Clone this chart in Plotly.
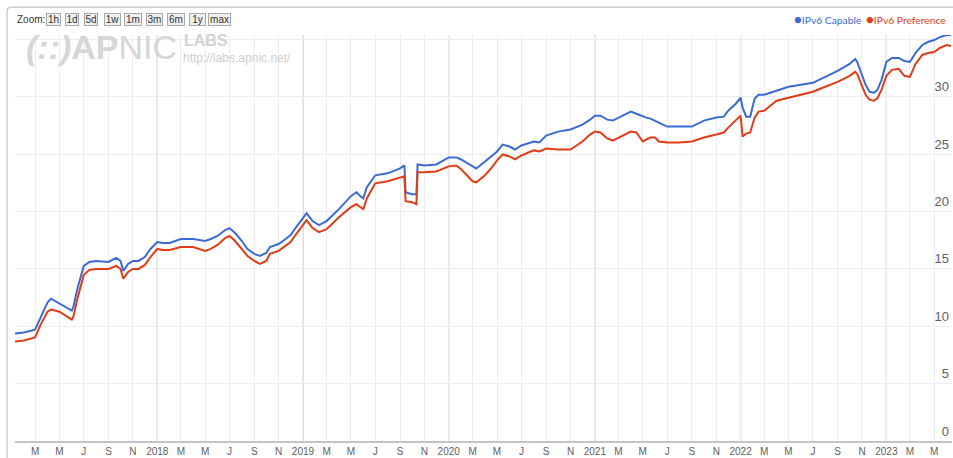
import plotly.graph_objects as go

# ---------------- data ----------------
dates = [
    "2017-01-09", "2017-02-01", "2017-03-01", "2017-03-15", "2017-04-01", "2017-04-10",
    "2017-05-01", "2017-06-01", "2017-06-05", "2017-06-15", "2017-07-01", "2017-07-15",
    "2017-08-01", "2017-09-01", "2017-09-20", "2017-10-01", "2017-10-08", "2017-10-20",
    "2017-11-01", "2017-11-15", "2017-12-01", "2017-12-15",
    "2018-01-01", "2018-01-15", "2018-02-01", "2018-03-01", "2018-04-01", "2018-05-01",
    "2018-05-15", "2018-06-01", "2018-06-20", "2018-07-01", "2018-07-15", "2018-08-01",
    "2018-08-15", "2018-09-01", "2018-09-15", "2018-10-01", "2018-10-10", "2018-11-01",
    "2018-11-15", "2018-12-01", "2018-12-15",
    "2019-01-01", "2019-01-10", "2019-01-25", "2019-02-10", "2019-03-01", "2019-04-01",
    "2019-05-01", "2019-05-15", "2019-05-25", "2019-06-01", "2019-06-10", "2019-07-01",
    "2019-08-01", "2019-09-01", "2019-09-12", "2019-09-15", "2019-10-01", "2019-10-12",
    "2019-10-15", "2019-11-01", "2019-12-01",
    "2020-01-01", "2020-01-20", "2020-02-01", "2020-03-01", "2020-03-10", "2020-04-01",
    "2020-04-20", "2020-05-01", "2020-05-15", "2020-06-01", "2020-06-15", "2020-07-01",
    "2020-08-01", "2020-08-15", "2020-09-01", "2020-10-01", "2020-11-01", "2020-12-01",
    "2020-12-20",
    "2021-01-01", "2021-01-15", "2021-02-01", "2021-02-15", "2021-03-01", "2021-04-01",
    "2021-04-15", "2021-05-01", "2021-05-10", "2021-05-20", "2021-06-01", "2021-06-10",
    "2021-07-01", "2021-08-01", "2021-09-01", "2021-10-01", "2021-11-01", "2021-11-20",
    "2021-12-01", "2021-12-20",
    "2022-01-01", "2022-01-06", "2022-01-15", "2022-01-25", "2022-02-05", "2022-02-15",
    "2022-03-01", "2022-04-01", "2022-05-01", "2022-06-01", "2022-07-01", "2022-08-01",
    "2022-09-01", "2022-10-01", "2022-10-15", "2022-10-20", "2022-11-01", "2022-11-10",
    "2022-11-20", "2022-12-01", "2022-12-10", "2022-12-20",
    "2023-01-01", "2023-01-15", "2023-02-01", "2023-02-15", "2023-03-01", "2023-03-15",
    "2023-04-01", "2023-04-15", "2023-05-01", "2023-05-15", "2023-06-01", "2023-06-12",
]

ipv6_capable = [
    9.37, 9.45, 9.71, 10.84, 12.06, 12.40,
    11.97, 11.36, 11.70, 13.27, 15.26, 15.61,
    15.70, 15.61, 15.96, 15.70, 14.83, 15.44,
    15.70, 15.70, 16.04, 16.74,
    17.35, 17.26, 17.26, 17.61, 17.61, 17.43,
    17.61, 17.87, 18.39, 18.56, 18.13, 17.43,
    16.74, 16.31, 16.13, 16.39, 16.91, 17.17,
    17.52, 17.95, 18.65,
    19.51, 19.86, 19.17, 18.82, 19.17, 20.21,
    21.34, 21.68, 21.34, 21.16, 22.12, 23.16,
    23.33, 23.76, 24.02, 21.68, 21.51, 21.51,
    24.11, 24.02, 24.11,
    24.72, 24.72, 24.54, 23.94, 23.76, 24.37,
    24.89, 25.24, 25.84, 25.67, 25.41, 25.76,
    26.11, 26.02, 26.63, 26.97, 27.15, 27.58,
    28.01,
    28.36, 28.36, 28.01, 27.93, 28.19, 28.71,
    28.53, 28.27, 28.19, 28.10, 27.93, 27.75,
    27.41, 27.41, 27.41, 27.93, 28.19, 28.27,
    28.79, 29.40,
    29.92, 29.05, 28.27, 28.27, 29.84, 30.18,
    30.18, 30.53, 30.88, 31.05, 31.22, 31.74,
    32.26, 32.87, 33.30, 33.04, 31.91, 31.05,
    30.44, 30.36, 30.62, 31.48,
    33.04, 33.39, 33.39, 33.13, 33.04, 33.82,
    34.52, 34.78, 34.95, 35.21, 35.39, 35.39,
]

ipv6_preference = [
    8.67, 8.76, 9.02, 10.15, 11.27, 11.45,
    11.27, 10.58, 10.84, 12.40, 14.48, 14.92,
    15.00, 15.00, 15.26, 15.00, 14.14, 14.74,
    15.00, 15.00, 15.35, 16.04,
    16.74, 16.65, 16.65, 16.91, 16.91, 16.57,
    16.74, 17.09, 17.69, 17.87, 17.43, 16.74,
    16.13, 15.70, 15.44, 15.70, 16.31, 16.57,
    16.91, 17.35, 18.04,
    18.82, 19.25, 18.56, 18.21, 18.47, 19.51,
    20.38, 20.64, 20.38, 20.21, 21.16, 22.46,
    22.64, 22.98, 23.07, 20.90, 20.82, 20.64,
    23.42, 23.42, 23.50,
    23.94, 24.02, 23.68, 22.64, 22.55, 23.16,
    23.94, 24.46, 24.98, 24.80, 24.54, 24.89,
    25.33, 25.24, 25.50, 25.41, 25.41, 26.11,
    26.71,
    26.97, 26.89, 26.37, 26.19, 26.45, 26.97,
    26.89, 26.11, 26.28, 26.45, 26.45, 26.11,
    26.02, 26.02, 26.11, 26.45, 26.71, 26.89,
    27.32, 27.93,
    28.36, 26.54, 26.80, 26.89, 28.19, 28.71,
    28.79, 29.66, 29.92, 30.18, 30.44, 30.88,
    31.31, 31.83, 32.18, 32.00, 30.96, 30.18,
    29.75, 29.66, 29.90, 30.62,
    31.83, 32.35, 32.44, 31.83, 31.74, 32.87,
    33.65, 33.82, 33.91, 34.26, 34.52, 34.43,
]

tick_dates = [
    "2017-03-01", "2017-05-01", "2017-07-01", "2017-09-01", "2017-11-01",
    "2018-01-01", "2018-03-01", "2018-05-01", "2018-07-01", "2018-09-01", "2018-11-01",
    "2019-01-01", "2019-03-01", "2019-05-01", "2019-07-01", "2019-09-01", "2019-11-01",
    "2020-01-01", "2020-03-01", "2020-05-01", "2020-07-01", "2020-09-01", "2020-11-01",
    "2021-01-01", "2021-03-01", "2021-05-01", "2021-07-01", "2021-09-01", "2021-11-01",
    "2022-01-01", "2022-03-01", "2022-05-01", "2022-07-01", "2022-09-01", "2022-11-01",
    "2023-01-01", "2023-03-01", "2023-05-01",
]
tick_labels = [
    "M", "M", "J", "S", "N",
    "2018", "M", "M", "J", "S", "N",
    "2019", "M", "M", "J", "S", "N",
    "2020", "M", "M", "J", "S", "N",
    "2021", "M", "M", "J", "S", "N",
    "2022", "M", "M", "J", "S", "N",
    "2023", "M", "M",
]
year_lines = ["2018-01-01", "2019-01-01", "2020-01-01", "2021-01-01", "2022-01-01", "2023-01-01"]

y_ticks = [0, 5, 10, 15, 20, 25, 30, 35]
y_tick_labels = ["0", "5", "10", "15", "20", "25", "30", ""]

zoom_buttons = ["1h", "1d", "5d", "1w", "1m", "3m", "6m", "1y", "max"]

series_names = ["IPv6 Capable", "IPv6 Preference"]
series_colors = ["#3a6bd4", "#e23c16"]

# ---------------- layout geometry ----------------
W, H = 953, 458
L, R, T, B = 15, 1, 35, 15
PW, PH = W - L - R, H - T - B


def fx(px):
    return (px - L) / PW


def fy(py):
    return (H - B - py) / PH


fig = go.Figure()
for name, vals, col in zip(series_names, [ipv6_capable, ipv6_preference], series_colors):
    fig.add_trace(go.Scatter(
        x=dates, y=vals, mode="lines", name=name,
        line=dict(color=col, width=2), showlegend=False,
    ))

shapes = []
for d in year_lines:
    shapes.append(dict(type="line", xref="x", yref="paper", x0=d, x1=d, y0=0, y1=1,
                       line=dict(color="#d2d2d6", width=1.5), layer="below"))

# container border (top + left) with rounded corner
bx0, by0 = fx(7), fy(7)
rx, ry = 4 / PW, 4 / PH
shapes.append(dict(
    type="path", xref="paper", yref="paper",
    path=f"M {bx0},{fy(470)} L {bx0},{by0 - ry} Q {bx0},{by0} {bx0 + rx},{by0} L {fx(970)},{by0}",
    line=dict(color="#b4b4b4", width=1),
))

annotations = []
# watermark
annotations.append(dict(xref="paper", yref="paper", x=fx(24), y=fy(47), xanchor="left", yanchor="middle",
                        text="<b><i>(::)</i>AP</b>NIC", showarrow=False,
                        font=dict(family="Liberation Sans", size=34, color="#d6d6d6")))
annotations.append(dict(xref="paper", yref="paper", x=fx(182), y=fy(41), xanchor="left", yanchor="middle",
                        text="<b>LABS</b>", showarrow=False,
                        font=dict(family="Liberation Sans", size=16, color="#d2d2d2")))
annotations.append(dict(xref="paper", yref="paper", x=fx(181), y=fy(58), xanchor="left", yanchor="middle",
                        text="http://labs.apnic.net/", showarrow=False,
                        font=dict(family="Liberation Sans", size=12, color="#cecece")))

# zoom selector
annotations.append(dict(xref="paper", yref="paper", x=fx(15), y=fy(19.5), xanchor="left", yanchor="middle",
                        text="Zoom:", showarrow=False,
                        font=dict(family="Liberation Sans", size=10, color="#333333")))
btn_centers = [53.5, 72, 91, 112.5, 133, 154.5, 176, 197.5, 219.5]
btn_widths = [15, 14, 14, 17, 18, 17, 18, 17, 23]
for lab, cx, bw in zip(zoom_buttons, btn_centers, btn_widths):
    annotations.append(dict(xref="paper", yref="paper", x=fx(cx), y=fy(19.5), xanchor="center",
                            yanchor="middle", text=lab, showarrow=False, width=bw - 2, height=11,
                            borderpad=0, borderwidth=1, bordercolor="#a8a8a8", bgcolor="#f0f0f0",
                            font=dict(family="Liberation Sans", size=10, color="#333333")))

# legend
legend_x = [792, 864]
for name, col, lx in zip(series_names, series_colors, legend_x):
    annotations.append(dict(xref="paper", yref="paper", x=fx(lx), y=fy(19), xanchor="left", yanchor="middle",
                            text=f"<span style='font-size:13px'>●</span>{name}", showarrow=False,
                            font=dict(family="Lato", size=10.3, color=col)))

fig.update_layout(
    width=W, height=H,
    margin=dict(l=L, r=R, t=T, b=B),
    paper_bgcolor="white", plot_bgcolor="white",
    shapes=shapes, annotations=annotations,
    xaxis=dict(
        type="date", range=["2017-01-09 18:00", "2023-06-14 10:00"],
        tickvals=tick_dates, ticktext=tick_labels, ticks="",
        showgrid=True, gridcolor="#ececf2", gridwidth=1,
        showline=True, linecolor="#c4c4c8", linewidth=2,
        tickfont=dict(family="Liberation Sans", size=10, color="#606060"),
        zeroline=False, fixedrange=True,
    ),
    yaxis=dict(
        range=[0, 35.39], side="right", tickvals=y_ticks, ticktext=y_tick_labels,
        ticklabelposition="inside", ticklabelshift=-10, ticks="",
        showgrid=True, gridcolor="#ececf2", gridwidth=1, zeroline=False, showline=False,
        tickfont=dict(family="Liberation Sans", size=13, color="#606060"),
        fixedrange=True,
    ),
    showlegend=False,
)

fig.write_html(
    "out.html",
    config={"displayModeBar": False},
    post_script="document.body.style.margin='0';document.body.style.overflow='hidden';",
)
